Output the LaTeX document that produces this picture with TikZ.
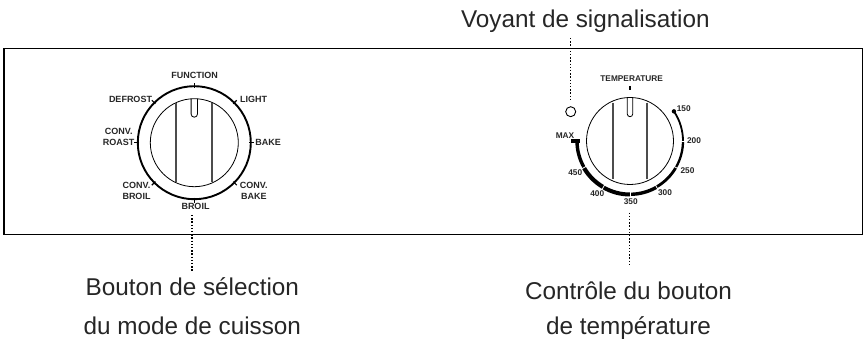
\documentclass[tikz,border=0pt]{standalone}
\usepackage{fontspec}
\setmainfont{Liberation Sans}
\usetikzlibrary{calc}
\tikzset{
 x=1pt,y=-1pt,
 captext/.style={font=\fontsize{24.3}{29}\selectfont,inner sep=0pt,anchor=base,text=black!85},
 lab/.style={font=\bfseries\fontsize{8.3}{11.3}\selectfont,inner sep=0pt,align=center,text=black!85},
 labl/.style={lab,font=\bfseries\fontsize{9}{11.3}\selectfont},
 leader/.style={line width=1.5pt,dash pattern=on 1.4pt off 1.8pt},
 knob/.style={draw,line width=0.8pt,fill=white},
 ridge/.style={line width=1.9pt,draw=black!70},
 tickm/.style={line width=1.2pt}
}
\begin{document}
\begin{tikzpicture}
\useasboundingbox (0,0) rectangle (865,339);
\draw[line width=1.2pt] (4,48.3) rectangle (862.5,234.7);
% captions
\node[captext] (c1) at (585.3,27.5) {Voyant de signalisation};
\node[captext] (c2) at (192.3,295.5) {Bouton de sélection};
\node[captext] (c3) at (192.3,334.5) {du mode de cuisson};
\node[captext] (c4) at (628.5,299) {Contrôle du bouton};
\node[captext] (c5) at (628.5,334.5) {de température};
% left dial
\coordinate (L) at (194.3,142.7);
\draw[line width=1.9pt] (L) circle (56.5);
\foreach \a in {-90,-45,0,45,90,135,180,225}
  \draw[tickm] ($(L)+(\a:55)$) -- ($(L)+(\a:60)$);
\node[knob,circle,minimum size=88pt,inner sep=0pt] (k1) at (L) {};
\draw[ridge] (176.3,102.7) -- (176.3,181.7);
\draw[ridge] (211.7,102.7) -- (211.7,181.7);
\draw[line width=0.8pt] (191.1,98.8) -- (191.1,114) arc (180:0:3.2) -- (197.5,98.8);
\node[labl] (l1) at (194.7,75) {FUNCTION};
\node[labl] (l2) at (130.5,99) {DEFROST};
\node[labl] (l3) at (253.7,99.3) {LIGHT};
\node[labl] (l4) at (118.7,137) {CONV.\\ROAST};
\node[labl] (l5) at (268.2,142.7) {BAKE};
\node[labl] (l6) at (136.5,191) {CONV.\\BROIL};
\node[labl] (l7) at (253.8,191) {CONV.\\BAKE};
\node[labl] (l8) at (195.5,206.7) {BROIL};
\coordinate (d1) at (192,215);
\coordinate (d1e) at (192,272);
\draw[leader] (d1) -- (d1e);
% right dial
\coordinate (R) at (630,141);
\node[knob,circle,minimum size=87pt,inner sep=0pt] (k2) at (R) {};
\draw[ridge,line width=1.6pt] (613,102.7) -- (613,179.3);
\draw[ridge,line width=1.6pt] (647,102.7) -- (647,179.3);
\draw[line width=0.8pt] (627.3,98) -- (627.3,114) arc (180:0:2.7) -- (632.7,98);
\draw[line width=1.8pt] ($(R)+(-34:53)$) arc (-34:0:53);
\draw[line width=2.3pt] ($(R)+(0:53)$) arc (0:30:53);
\draw[line width=2.8pt] ($(R)+(30:53)$) arc (30:60:53);
\draw[line width=3.4pt] ($(R)+(60:53.3)$) arc (60:90:53.3);
\draw[line width=4pt] ($(R)+(90:53.5)$) arc (90:120:53.5);
\draw[line width=4.2pt] ($(R)+(120:53.3)$) arc (120:150:53.3);
\draw[line width=3.4pt] ($(R)+(150:53)$) arc (150:180:53);
\fill (570.7,139.2) rectangle (580,143.4);
\foreach \a in {60,90,120,150}
  \draw[white,line width=0.8pt] ($(R)+(\a:50.5)$) -- ($(R)+(\a:56.5)$);
\fill ($(R)+(-34:53)$) circle (2.2);
\draw[draw=white,line width=0.8pt] ($(R)+(0:51)$) -- ($(R)+(0:55)$);
\draw[draw=white,line width=0.8pt] ($(R)+(30:51)$) -- ($(R)+(30:55)$);
\draw[line width=1.8pt] (630,86) -- (630,90);
\node[lab] (r0) at (631.7,79) {TEMPERATURE};
\node[lab] (r1) at (683.7,108.3) {150};
\node[lab] (r2) at (694,141) {200};
\node[lab] (r3) at (687.5,170.3) {250};
\node[lab] (r4) at (665,192.7) {300};
\node[lab] (r5) at (630.7,201.3) {350};
\node[lab] (r6) at (597.3,194) {400};
\node[lab] (r7) at (575.2,172.3) {450};
\node[lab] (r8) at (565,136) {MAX};
\coordinate (d2) at (629.7,212.7);
\coordinate (d2e) at (629.7,267);
\draw[leader] (d2) -- (d2e);
\node[draw,circle,line width=0.9pt,minimum size=10pt,inner sep=0pt] (v) at (570.7,111.7) {};
\coordinate (vt) at (570.7,38);
\draw[leader,shorten >=7pt] (vt) -- (v.north);
\end{tikzpicture}
\end{document}
